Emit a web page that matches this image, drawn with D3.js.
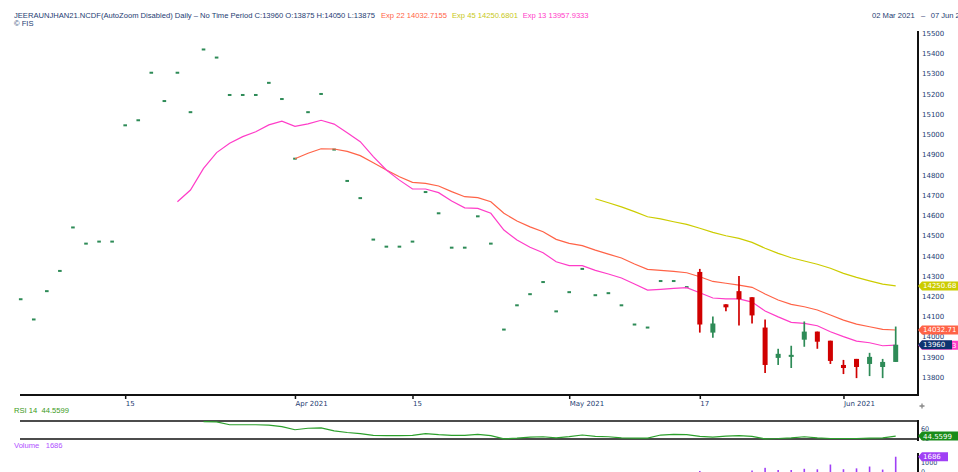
<!DOCTYPE html>
<html>
<head>
<meta charset="utf-8">
<script src="https://cdn.jsdelivr.net/npm/d3@7"></script>
<style>
  body { margin: 0; background: #fff; }
  svg { display: block; }
</style>
</head>
<body>
<svg id="chart"></svg>
<script>
// trading days shown on the chart
const dates = [
  '2021-03-02', '2021-03-03', '2021-03-04', '2021-03-05', '2021-03-08', '2021-03-09', '2021-03-10', '2021-03-12',
  '2021-03-15', '2021-03-16', '2021-03-17', '2021-03-18', '2021-03-19', '2021-03-22', '2021-03-23', '2021-03-24',
  '2021-03-25', '2021-03-26', '2021-03-29', '2021-03-30', '2021-03-31', '2021-04-01', '2021-04-05', '2021-04-06',
  '2021-04-07', '2021-04-08', '2021-04-09', '2021-04-12', '2021-04-13', '2021-04-14', '2021-04-15', '2021-04-16',
  '2021-04-19', '2021-04-20', '2021-04-21', '2021-04-22', '2021-04-23', '2021-04-26', '2021-04-27', '2021-04-28',
  '2021-04-29', '2021-04-30', '2021-05-03', '2021-05-04', '2021-05-05', '2021-05-06', '2021-05-07', '2021-05-10',
  '2021-05-11', '2021-05-12', '2021-05-13', '2021-05-14', '2021-05-17', '2021-05-18', '2021-05-19', '2021-05-20',
  '2021-05-21', '2021-05-24', '2021-05-25', '2021-05-26', '2021-05-27', '2021-05-28', '2021-05-31', '2021-06-01',
  '2021-06-02', '2021-06-03', '2021-06-04', '2021-06-07'
];

const tickDates = ['2021-03-15', '2021-04-01', '2021-04-15', '2021-05-03', '2021-05-17', '2021-06-01'];
const tickLabels = ['15', 'Apr 2021', '15', 'May 2021', '17', 'Jun 2021'];

// settlement only days (no trades), first 52 days
const settle = [
  14185, 14085, 14225, 14325, 14540, 14460, 14470, 14470, 15045, 15070, 15305, 15165, 15305,
  15110, 15420, 15380, 15195, 15195, 15195, 15255, 15175, 14880, 15110, 15200, 14925, 14770,
  14685, 14480, 14445, 14445, 14470, 14715, 14610, 14440, 14440, 14595, 14460, 14035, 14155,
  14210, 14270, 14125, 14220, 14335, 14205, 14215, 14155, 14060, 14045, 14275, 14275, 14245
];

// traded days from 17 May
const candleStart = 52;
const opens  = [14320, 14020, 14160, 14225, 14195, 14045, 13895, 13900, 13985, 14025, 13980, 13860, 13890, 13865, 13850, 13875];
const highs  = [14335, 14100, 14160, 14300, 14195, 14085, 13940, 13955, 14075, 14025, 13980, 13885, 13890, 13920, 13890, 14050];
const lows   = [14020, 13995, 14125, 14055, 14065, 13820, 13860, 13845, 13950, 13940, 13865, 13815, 13795, 13805, 13795, 13875];
const closes = [14060, 14065, 14145, 14185, 14105, 13860, 13915, 13910, 14025, 13975, 13880, 13845, 13850, 13900, 13875, 13960];
const volumes = [50, 0, 0, 0, 100, 410, 160, 160, 300, 240, 790, 250, 350, 560, 210, 1686];

// moving averages
const ema13Start = 12;
const ema13 = [
  14667, 14725, 14832, 14910, 14956, 14989, 15013, 15047, 15066, 15040, 15052, 15070, 15051, 15008,
  14964, 14890, 14824, 14774, 14730, 14730, 14712, 14671, 14637, 14634, 14610, 14527, 14478, 14442,
  14415, 14370, 14351, 14351, 14328, 14310, 14290, 14260, 14230, 14234, 14239, 14242, 14217, 14191,
  14187, 14187, 14171, 14127, 14098, 14071, 14066, 14054, 14024, 14000, 13978, 13970, 13955, 13958
];
const ema22Start = 21;
const ema22 = [
  14880, 14907, 14929, 14928, 14916, 14895, 14860, 14824, 14791, 14763, 14758, 14745, 14717, 14692,
  14687, 14667, 14610, 14572, 14543, 14519, 14481, 14461, 14450, 14428, 14408, 14389, 14359, 14333,
  14328, 14323, 14316, 14296, 14273, 14264, 14255, 14244, 14211, 14181, 14160, 14148, 14132, 14107,
  14082, 14062, 14049, 14036, 14033
];
const ema45Start = 44;
const ema45 = [
  14682, 14662, 14642, 14618, 14593, 14582, 14568, 14555, 14536, 14516, 14499, 14486, 14466, 14437,
  14412, 14390, 14374, 14358, 14338, 14313, 14293, 14276, 14260, 14251
];

const rsiStart = 14;
const rsi = [
  76.1, 75.4, 69.2, 69.2, 69.2, 68.5, 65.3, 58.4, 61.6, 62.3, 56.1, 52.4, 50.1, 46.2, 45.5, 45.5,
  46.2, 50.1, 47.8, 46.2, 46.2, 48.5, 45.5, 38.6, 40.0, 42.3, 43.2, 40.9, 43.4, 46.9, 43.9, 43.2,
  40.9, 40.0, 40.0, 46.9, 48.5, 47.8, 43.9, 42.3, 44.6, 45.5, 43.9, 38.6, 39.3, 40.9, 43.2, 40.9,
  39.3, 39.3, 39.3, 40.0, 40.9, 44.5599
];

const W = 958, H = 472;
const navy = '#1d3c72';
const green = '#2e8b57';
const red = '#d00000';
const c13 = '#ff3cc8', c22 = '#ff6347', c45 = '#cccc00';
const rsiColor = '#2ca02c';
const volColor = '#a040f5';
const smallFont = '"Liberation Sans", Arial, sans-serif';

const svg = d3.select('#chart').attr('width', W).attr('height', H)
  .style('font-family', '"DejaVu Sans", sans-serif');

const x = d3.scalePoint().domain(dates).range([20.7, 895.7]);
const y = d3.scaleLinear().domain([13800, 15500]).range([377.1, 33.3]);
const yRsi = d3.scaleLinear().domain([40, 60]).range([438.2, 429]);
const yVol = d3.scaleLinear().domain([0, 1000]).range([471.4, 462.7]);

// header
const hdr = svg.append('g').style('font-family', smallFont).style('font-size', '7.6px');
hdr.append('text').attr('x', 14).attr('y', 17.7).attr('fill', navy)
  .text('JEERAUNJHAN21.NCDF(AutoZoom Disabled) Daily \u2013  No Time Period   C:' + closes[15] + ' O:' + opens[15] + ' H:' + highs[15] + ' L:' + lows[15]);
hdr.append('text').attr('x', 381).attr('y', 17.7).attr('fill', c22).text('Exp 22 14032.7155');
hdr.append('text').attr('x', 452).attr('y', 17.7).attr('fill', '#c8c820').text('Exp 45 14250.6801');
hdr.append('text').attr('x', 522.7).attr('y', 17.7).attr('fill', c13).text('Exp 13 13957.9333');
hdr.append('text').attr('x', 14).attr('y', 26).attr('fill', navy).text('\u00a9 FIS');
hdr.append('text').attr('x', 872).attr('y', 17.7).attr('fill', navy).text('02 Mar 2021');
hdr.append('text').attr('x', 921).attr('y', 17.7).attr('fill', navy).text('\u2013');
hdr.append('text').attr('x', 930.7).attr('y', 17.7).attr('fill', navy).text('07 Jun 2021');

// frame
svg.append('line').attr('x1', 918).attr('x2', 918).attr('y1', 31).attr('y2', 396)
  .attr('stroke', '#111').attr('stroke-width', 2);
svg.append('line').attr('x1', 20).attr('x2', 919).attr('y1', 395).attr('y2', 395)
  .attr('stroke', '#111').attr('stroke-width', 2);

// x axis
const xAxis = svg.append('g').attr('transform', 'translate(0,395)')
  .call(d3.axisBottom(x).tickValues(tickDates).tickFormat((d, i) => tickLabels[i]).tickSize(4).tickPadding(2));
xAxis.select('.domain').remove();
xAxis.selectAll('line').attr('stroke', '#111').attr('stroke-width', 1.5);
xAxis.selectAll('text').attr('text-anchor', 'start').attr('fill', navy)
  .style('font-size', '7px').style('font-family', '"DejaVu Sans", sans-serif');

// y axis
const yAxis = svg.append('g').attr('transform', 'translate(918,0)')
  .call(d3.axisRight(y).tickValues(d3.range(13800, 15501, 100)).tickFormat(d3.format('d')).tickSize(0).tickPadding(4));
yAxis.select('.domain').remove();
yAxis.selectAll('text').attr('fill', navy)
  .style('font-size', '7px').style('font-family', '"DejaVu Sans", sans-serif');

// settlement dashes
svg.append('g').selectAll('rect').data(settle).join('rect')
  .attr('x', (d, i) => x(dates[i]) - 1.8)
  .attr('y', d => y(d) - 1)
  .attr('width', 3.6).attr('height', 2)
  .attr('fill', green);

// moving averages
function drawLine(values, start, color) {
  const line = d3.line().x((d, i) => x(dates[start + i])).y(d => y(d));
  svg.append('path').datum(values).attr('d', line)
    .attr('fill', 'none').attr('stroke', color).attr('stroke-width', 1.2);
}
drawLine(ema45, ema45Start, c45);
drawLine(ema22, ema22Start, c22);
drawLine(ema13, ema13Start, c13);

// candles
const candles = opens.map((o, i) => ({ date: dates[candleStart + i], o, h: highs[i], l: lows[i], c: closes[i] }));
const cg = svg.append('g').selectAll('g').data(candles).join('g');
cg.append('line')
  .attr('x1', d => x(d.date)).attr('x2', d => x(d.date))
  .attr('y1', d => y(d.h)).attr('y2', d => y(d.l))
  .attr('stroke', d => d.c >= d.o ? green : red).attr('stroke-width', 1.7);
cg.append('rect')
  .attr('x', d => x(d.date) - 2.5).attr('width', 5)
  .attr('y', d => y(Math.max(d.o, d.c)))
  .attr('height', d => Math.max(1.5, y(Math.min(d.o, d.c)) - y(Math.max(d.o, d.c))))
  .attr('fill', d => d.c >= d.o ? green : red);

// price tags on the right
function tag(yPos, color, label, w) {
  const g = svg.append('g');
  g.append('path')
    .attr('d', `M918,${yPos} L922,${yPos - 4.5} L${918 + w},${yPos - 4.5} L${918 + w},${yPos + 4.5} L922,${yPos + 4.5} Z`)
    .attr('fill', color);
  g.append('text').attr('x', 923).attr('y', yPos + 2.5).attr('fill', '#fff')
    .style('font-size', '7px').text(label);
}
tag(y(ema45[ema45.length - 1]), c45, '14250.68', 42);
tag(y(ema22[ema22.length - 1]), c22, '14032.71', 42);
tag(y(ema13[ema13.length - 1]), c13, '13957.93', 42);
tag(y(closes[closes.length - 1]), '#0d3470', String(closes[closes.length - 1]), 34);

// small crosshair icon below the axis
svg.append('path').attr('d', 'M919.5,406 h5 M922,403.5 v5').attr('stroke', '#888').attr('stroke-width', 1.3);

// RSI panel
svg.append('text').attr('x', 14).attr('y', 413.3).attr('fill', '#3a9a1a')
  .style('font-size', '7.6px').style('font-family', smallFont).style('white-space', 'pre')
  .text('RSI 14  44.5599');
[421, 439].forEach(v => {
  svg.append('line').attr('x1', 20).attr('x2', 918).attr('y1', v).attr('y2', v)
    .attr('stroke', '#111').attr('stroke-width', 1.5);
});
svg.append('line').attr('x1', 918).attr('x2', 918).attr('y1', 420).attr('y2', 441)
  .attr('stroke', '#111').attr('stroke-width', 2);
const rsiLine = d3.line().x((d, i) => x(dates[rsiStart + i])).y(d => yRsi(d));
svg.append('path').datum(rsi).attr('d', rsiLine)
  .attr('fill', 'none').attr('stroke', rsiColor).attr('stroke-width', 1.2);
[60, 40].forEach(v => {
  svg.append('text').attr('x', 921).attr('y', yRsi(v) + 2.3).attr('fill', navy)
    .style('font-size', '6.4px').text(v);
});
tag(yRsi(rsi[rsi.length - 1]), '#1a8c1a', '44.5599', 42);

// volume panel
svg.append('text').attr('x', 14).attr('y', 447.7).attr('fill', '#b050ff')
  .style('font-size', '7.6px').style('font-family', smallFont).style('white-space', 'pre')
  .text('Volume   ' + volumes[volumes.length - 1]);
svg.append('line').attr('x1', 918).attr('x2', 918).attr('y1', 453).attr('y2', 472)
  .attr('stroke', '#111').attr('stroke-width', 2);
svg.append('g').selectAll('rect').data(volumes.map((v, i) => ({ v, date: dates[candleStart + i] })).filter(d => d.v > 0))
  .join('rect')
  .attr('x', d => x(d.date) - 0.8)
  .attr('width', 1.6)
  .attr('y', d => yVol(d.v))
  .attr('height', d => H - yVol(d.v))
  .attr('fill', volColor);
[1000, 0].forEach(v => {
  svg.append('text').attr('x', 921).attr('y', yVol(v) + 2.3).attr('fill', navy)
    .style('font-size', '6.4px').text(v);
});
tag(yVol(volumes[volumes.length - 1]), volColor, String(volumes[volumes.length - 1]), 30);
</script>
</body>
</html>
